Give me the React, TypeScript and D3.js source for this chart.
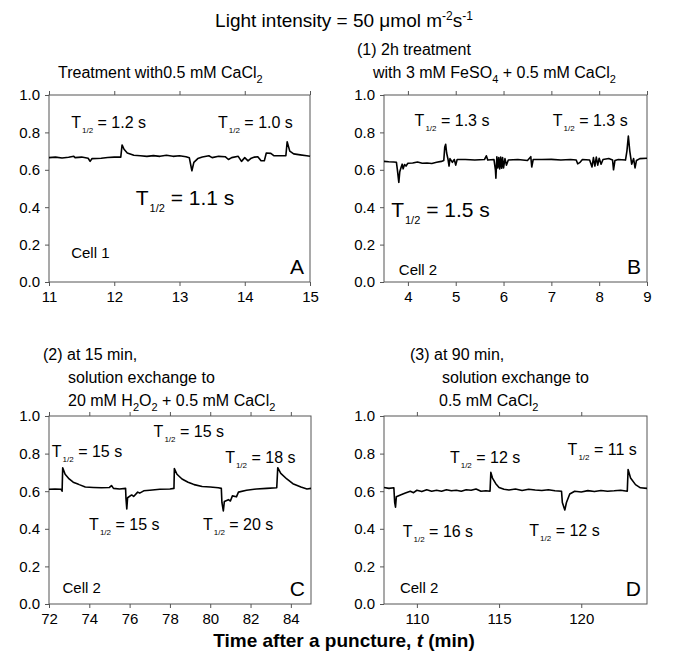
import * as d3 from 'd3';
import React, { useEffect, useRef } from 'react';

const W = 688;
const H = 659;
const FONT = 'Arial, "Liberation Sans", Helvetica, sans-serif';
const AXIS = '#555';

// Panel A: 0.5 mM CaCl2, cell 1 (time in min, value = fluorescence ratio)
const tA = [11.0, 11.1, 11.2, 11.3, 11.38, 11.4, 11.5, 11.6, 11.63, 11.66, 11.8, 11.9, 12.0, 12.1, 12.12, 12.15, 12.2, 12.3, 12.4, 12.5, 12.6, 12.7, 12.8, 12.9, 13.0, 13.1, 13.15, 13.19, 13.22, 13.28, 13.35, 13.45, 13.5, 13.6, 13.7, 13.75, 13.8, 13.9, 13.95, 14.0, 14.05, 14.1, 14.15, 14.2, 14.25, 14.3, 14.33, 14.4, 14.45, 14.55, 14.63, 14.65, 14.69, 14.75, 14.85, 14.95, 15.0];
const vA = [0.665, 0.668, 0.663, 0.667, 0.672, 0.665, 0.668, 0.662, 0.645, 0.66, 0.662, 0.666, 0.668, 0.668, 0.733, 0.71, 0.69, 0.678, 0.675, 0.672, 0.676, 0.672, 0.678, 0.672, 0.675, 0.67, 0.665, 0.595, 0.64, 0.66, 0.668, 0.675, 0.665, 0.672, 0.67, 0.655, 0.665, 0.672, 0.645, 0.665, 0.648, 0.662, 0.668, 0.67, 0.648, 0.648, 0.69, 0.688, 0.675, 0.675, 0.675, 0.75, 0.7, 0.685, 0.68, 0.675, 0.672];

// Panel B: 2h FeSO4 treatment, cell 2
const tB = [3.5, 3.6, 3.7, 3.76, 3.78, 3.81, 3.83, 3.86, 3.88, 3.9, 3.93, 3.96, 4.0, 4.1, 4.2, 4.3, 4.4, 4.5, 4.6, 4.7, 4.75, 4.77, 4.79, 4.81, 4.84, 4.86, 4.88, 4.93, 4.97, 5.0, 5.03, 5.2, 5.4, 5.6, 5.64, 5.67, 5.8, 5.83, 5.84, 5.86, 5.88, 5.9, 5.92, 5.94, 5.96, 5.98, 6.0, 6.03, 6.06, 6.1, 6.3, 6.5, 6.57, 6.59, 6.62, 6.8, 7.0, 7.2, 7.4, 7.52, 7.55, 7.6, 7.65, 7.8, 7.85, 7.88, 7.91, 7.94, 7.97, 8.0, 8.04, 8.08, 8.2, 8.28, 8.3, 8.33, 8.4, 8.55, 8.58, 8.61, 8.64, 8.68, 8.72, 8.75, 8.78, 8.85, 9.0];
const vB = [0.645, 0.643, 0.642, 0.64, 0.6, 0.533, 0.59, 0.615, 0.63, 0.605, 0.628, 0.62, 0.635, 0.636, 0.642, 0.635, 0.636, 0.634, 0.64, 0.645, 0.65, 0.72, 0.736, 0.69, 0.655, 0.62, 0.66, 0.64, 0.655, 0.625, 0.655, 0.655, 0.652, 0.655, 0.675, 0.652, 0.655, 0.6, 0.555, 0.67, 0.61, 0.665, 0.605, 0.668, 0.608, 0.665, 0.61, 0.66, 0.625, 0.652, 0.655, 0.65, 0.67, 0.615, 0.655, 0.655, 0.656, 0.652, 0.655, 0.652, 0.632, 0.64, 0.655, 0.652, 0.615, 0.665, 0.62, 0.668, 0.625, 0.662, 0.63, 0.655, 0.66, 0.652, 0.6, 0.65, 0.655, 0.652, 0.7, 0.78, 0.7, 0.63, 0.66, 0.61, 0.65, 0.66, 0.662];

// Panel C: 20 mM H2O2, cell 2
const tC = [72.0, 72.3, 72.6, 72.65, 72.68, 72.8, 73.0, 73.2, 73.4, 73.5, 73.8, 74.2, 74.6, 75.0, 75.1, 75.2, 75.5, 75.8, 75.82, 75.86, 75.9, 76.1, 76.2, 76.4, 76.5, 76.7, 77.0, 77.5, 78.0, 78.2, 78.22, 78.35, 78.6, 78.9, 79.1, 79.2, 79.6, 80.0, 80.4, 80.55, 80.58, 80.65, 80.7, 80.9, 81.0, 81.1, 81.3, 81.4, 81.8, 82.3, 82.8, 83.3, 83.35, 83.5, 83.8, 84.1, 84.5, 84.8, 85.0];
const vC = [0.61, 0.612, 0.61, 0.6, 0.725, 0.69, 0.665, 0.648, 0.64, 0.635, 0.622, 0.62, 0.618, 0.62, 0.63, 0.615, 0.612, 0.615, 0.56, 0.505, 0.565, 0.58, 0.572, 0.595, 0.59, 0.602, 0.605, 0.61, 0.612, 0.615, 0.72, 0.69, 0.665, 0.648, 0.64, 0.635, 0.625, 0.622, 0.618, 0.615, 0.54, 0.495, 0.545, 0.555, 0.548, 0.575, 0.57, 0.595, 0.605, 0.612, 0.615, 0.618, 0.725, 0.695, 0.665, 0.64, 0.622, 0.612, 0.615];

// Panel D: back to 0.5 mM CaCl2, cell 2
const tD = [108.0, 108.3, 108.6, 108.65, 108.7, 108.75, 109.0, 109.3, 109.6, 109.8, 110.0, 110.3, 110.6, 110.9, 111.2, 111.5, 111.8, 112.1, 112.4, 112.7, 113.0, 113.3, 113.6, 113.9, 114.2, 114.45, 114.5, 114.6, 114.8, 115.0, 115.3, 115.6, 116.0, 116.4, 116.8, 117.2, 117.6, 118.0, 118.4, 118.8, 118.85, 119.0, 119.1, 119.3, 119.6, 120.0, 120.4, 120.8, 121.2, 121.6, 122.0, 122.4, 122.8, 122.85, 123.0, 123.3, 123.6, 124.0];
const vD = [0.62, 0.615, 0.618, 0.54, 0.515, 0.57, 0.58, 0.59, 0.6, 0.592, 0.605, 0.598, 0.608, 0.6, 0.605, 0.6, 0.608, 0.602, 0.605, 0.6, 0.608, 0.605, 0.612, 0.6, 0.602, 0.6, 0.7, 0.67, 0.64, 0.62, 0.61, 0.606, 0.612, 0.604, 0.61, 0.606, 0.604, 0.608, 0.602, 0.6, 0.54, 0.5, 0.54, 0.585, 0.6, 0.596, 0.603, 0.598, 0.604, 0.6, 0.602, 0.605, 0.6, 0.715, 0.67, 0.635, 0.618, 0.615];

const yTicks = [0, 0.2, 0.4, 0.6, 0.8, 1.0];
const xTicksA = [11, 12, 13, 14, 15];
const xTicksB = [4, 5, 6, 7, 8, 9];
const xTicksC = [72, 74, 76, 78, 80, 82, 84];
const xTicksD = [110, 115, 120];

// T1/2 labels, anchored in data units
const notesA = [
  { t: 11.34, v: 0.822, text: '1.2 s' },
  { t: 13.59, v: 0.822, text: '1.0 s' },
  { t: 12.33, v: 0.412, text: '1.1 s', big: true },
];
const notesB = [
  { t: 4.14, v: 0.836, text: '1.3 s' },
  { t: 7.03, v: 0.836, text: '1.3 s' },
  { t: 3.65, v: 0.349, text: '1.5 s', big: true },
];
const notesC = [
  { t: 72.14, v: 0.783, text: '15 s' },
  { t: 77.19, v: 0.89, text: '15 s' },
  { t: 80.74, v: 0.748, text: '18 s' },
  { t: 73.99, v: 0.394, text: '15 s' },
  { t: 79.64, v: 0.394, text: '20 s' },
];
const notesD = [
  { t: 112.01, v: 0.748, text: '12 s' },
  { t: 119.17, v: 0.793, text: '11 s' },
  { t: 109.14, v: 0.358, text: '16 s' },
  { t: 116.84, v: 0.362, text: '12 s' },
];

function Panel({ box, t, v, xDomain, xTicks, notes, cell, letter }) {
  const ref = useRef<SVGGElement>(null);

  useEffect(() => {
    const g = d3.select(ref.current);
    g.selectAll('*').remove();

    const x = d3.scaleLinear().domain(xDomain).range([0, box.w]);
    const y = d3.scaleLinear().domain([0, 1]).range([box.h, 0]);

    // bottom axis
    g.append('g')
      .attr('transform', `translate(0,${box.h})`)
      .call(d3.axisBottom(x).tickValues(xTicks).tickSize(4).tickPadding(5).tickFormat(d3.format('d')));

    // top ticks, no labels
    g.append('g')
      .call(d3.axisTop(x).tickValues(xTicks).tickSize(4).tickFormat(() => ''));

    // left axis
    g.append('g')
      .call(d3.axisLeft(y).tickValues(yTicks).tickSize(4).tickPadding(5).tickFormat(d3.format('.1f')));

    g.selectAll('.domain').remove();
    g.selectAll('.tick line').attr('stroke', AXIS);
    g.selectAll('.tick text')
      .attr('fill', 'black')
      .attr('font-family', FONT)
      .attr('font-size', 15);

    // frame
    g.append('rect')
      .attr('width', box.w)
      .attr('height', box.h)
      .attr('fill', 'none')
      .attr('stroke', AXIS)
      .attr('stroke-width', 1);

    // trace
    const line = d3.line<number>()
      .x((d, i) => x(t[i]))
      .y((d) => y(d));

    g.append('path')
      .datum(v)
      .attr('d', line)
      .attr('fill', 'none')
      .attr('stroke', 'black')
      .attr('stroke-width', 1.6)
      .attr('stroke-linejoin', 'round');

    // T1/2 labels
    notes.forEach((n) => {
      const size = n.big ? 21 : 16;
      const sub = n.big ? 11 : 8;
      const shift = n.big ? 7 : 5;
      const txt = g.append('text')
        .attr('x', x(n.t))
        .attr('y', y(n.v))
        .attr('font-family', FONT)
        .attr('font-size', size)
        .attr('fill', 'black');
      txt.append('tspan').text('T');
      txt.append('tspan')
        .attr('dx', 1)
        .attr('dy', shift)
        .attr('font-size', sub)
        .text('1/2');
      txt.append('tspan')
        .attr('dy', -shift)
        .text(` = ${n.text}`);
    });

    // cell label and panel letter
    g.append('text')
      .attr('x', x(cell.t))
      .attr('y', y(cell.v))
      .attr('font-family', FONT)
      .attr('font-size', 15)
      .text(cell.text);

    g.append('text')
      .attr('x', box.w - 6)
      .attr('y', box.h - 8)
      .attr('text-anchor', 'end')
      .attr('font-family', FONT)
      .attr('font-size', 21)
      .text(letter);
  }, []);

  return <g ref={ref} transform={`translate(${box.x},${box.y})`} />;
}

export default function App() {
  return (
    <svg
      width={W}
      height={H}
      style={{ position: 'absolute', left: 0, top: 0, background: 'white' }}
      fontFamily={FONT}
    >
      <rect width={W} height={H} fill="white" />

      <text x={344} y={27} textAnchor="middle" fontSize={19}>
        Light intensity = 50 {'\u03bc'}mol m<tspan dy={-7} fontSize={12}>-2</tspan>
        <tspan dy={7}>s</tspan><tspan dy={-7} fontSize={12}>-1</tspan>
      </text>

      <text x={58} y={78} fontSize={16}>
        Treatment with0.5 mM CaCl<tspan dy={5} fontSize={11}>2</tspan>
      </text>

      <text x={357} y={55} fontSize={16}>(1) 2h treatment</text>
      <text x={373} y={78} fontSize={16}>
        with 3 mM FeSO<tspan dy={5} fontSize={11}>4</tspan>
        <tspan dy={-5}> + 0.5 mM CaCl</tspan><tspan dy={5} fontSize={11}>2</tspan>
      </text>

      <text x={43} y={360} fontSize={16}>(2) at 15 min,</text>
      <text x={68} y={383} fontSize={16}>solution exchange to</text>
      <text x={68} y={406} fontSize={16}>
        20 mM H<tspan dy={5} fontSize={11}>2</tspan>
        <tspan dy={-5}>O</tspan><tspan dy={5} fontSize={11}>2</tspan>
        <tspan dy={-5}> + 0.5 mM CaCl</tspan><tspan dy={5} fontSize={11}>2</tspan>
      </text>

      <text x={410} y={360} fontSize={16}>(3) at 90 min,</text>
      <text x={442} y={383} fontSize={16}>solution exchange to</text>
      <text x={439} y={406} fontSize={16}>
        0.5 mM CaCl<tspan dy={5} fontSize={11}>2</tspan>
      </text>

      <Panel box={{ x: 49, y: 95, w: 261, h: 187 }} t={tA} v={vA} xDomain={[11, 15]} xTicks={xTicksA}
        notes={notesA} cell={{ t: 11.34, v: 0.128, text: 'Cell 1' }} letter="A" />
      <Panel box={{ x: 384, y: 95, w: 263, h: 187 }} t={tB} v={vB} xDomain={[3.5, 9]} xTicks={xTicksB}
        notes={notesB} cell={{ t: 3.81, v: 0.037, text: 'Cell 2' }} letter="B" />
      <Panel box={{ x: 49, y: 416, w: 262, h: 188 }} t={tC} v={vC} xDomain={[72, 85]} xTicks={xTicksC}
        notes={notesC} cell={{ t: 72.67, v: 0.057, text: 'Cell 2' }} letter="C" />
      <Panel box={{ x: 384, y: 416, w: 263, h: 188 }} t={tD} v={vD} xDomain={[108, 124]} xTicks={xTicksD}
        notes={notesD} cell={{ t: 108.97, v: 0.061, text: 'Cell 2' }} letter="D" />

      <text x={344} y={647} textAnchor="middle" fontSize={19} fontWeight="bold">
        Time after a puncture, <tspan fontStyle="italic">t</tspan> (min)
      </text>
    </svg>
  );
}
